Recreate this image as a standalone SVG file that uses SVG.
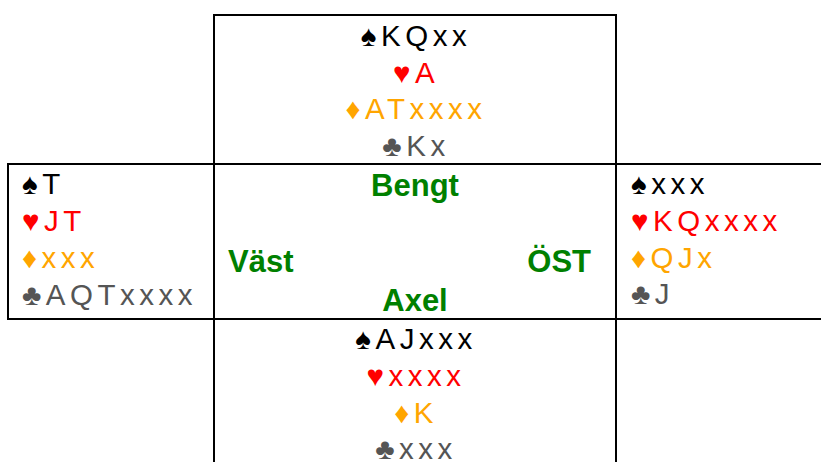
<svg xmlns="http://www.w3.org/2000/svg" width="821" height="462" viewBox="0 0 821 462">
<style>
.h{font-family:"Liberation Sans",Arial,sans-serif;font-size:29.5px;letter-spacing:4.5px}
.c{text-anchor:middle}
.lab{font-family:"Liberation Sans",Arial,sans-serif;font-size:31px;font-weight:bold;fill:#008000}
.s{fill:#000}.r{fill:#ff0000}.d{fill:#ffa500}.k{fill:#555555}
.ln{stroke:#000;stroke-width:2;fill:none}
</style>
<rect width="821" height="462" fill="#fff"/>
<g id="grid">
<line class="ln" x1="214" y1="14" x2="214" y2="462"/>
<line class="ln" x1="616" y1="14" x2="616" y2="462"/>
<line class="ln" x1="213" y1="15" x2="617" y2="15"/>
<line class="ln" x1="7" y1="164" x2="821" y2="164"/>
<line class="ln" x1="7" y1="319" x2="821" y2="319"/>
<line class="ln" x1="8" y1="163" x2="8" y2="320"/>
</g>
<g id="north" class="h c">
<text x="416" y="46" class="s">♠KQxx</text>
<text x="416" y="83" class="r">♥A</text>
<text x="416" y="119" class="d">♦ATxxxx</text>
<text x="416" y="156" class="k">♣Kx</text>
</g>
<g id="west" class="h">
<text x="22" y="194" class="s">♠T</text>
<text x="22" y="231" class="r">♥JT</text>
<text x="22" y="268" class="d">♦xxx</text>
<text x="22" y="305" class="k">♣AQTxxxx</text>
</g>
<g id="east" class="h">
<text x="631" y="194" class="s">♠xxx</text>
<text x="631" y="231" class="r">♥KQxxxx</text>
<text x="631" y="268" class="d">♦QJx</text>
<text x="631" y="304" class="k">♣J</text>
</g>
<g id="south" class="h c">
<text x="416" y="349" class="s">♠AJxxx</text>
<text x="416" y="386" class="r">♥xxxx</text>
<text x="416" y="423" class="d">♦K</text>
<text x="416" y="459" class="k">♣xxx</text>
</g>
<g id="table">
<text x="415" y="196" class="lab c">Bengt</text>
<text x="228" y="272" class="lab">Väst</text>
<text x="591" y="272" class="lab" text-anchor="end">ÖST</text>
<text x="415" y="311" class="lab c">Axel</text>
</g>
</svg>
